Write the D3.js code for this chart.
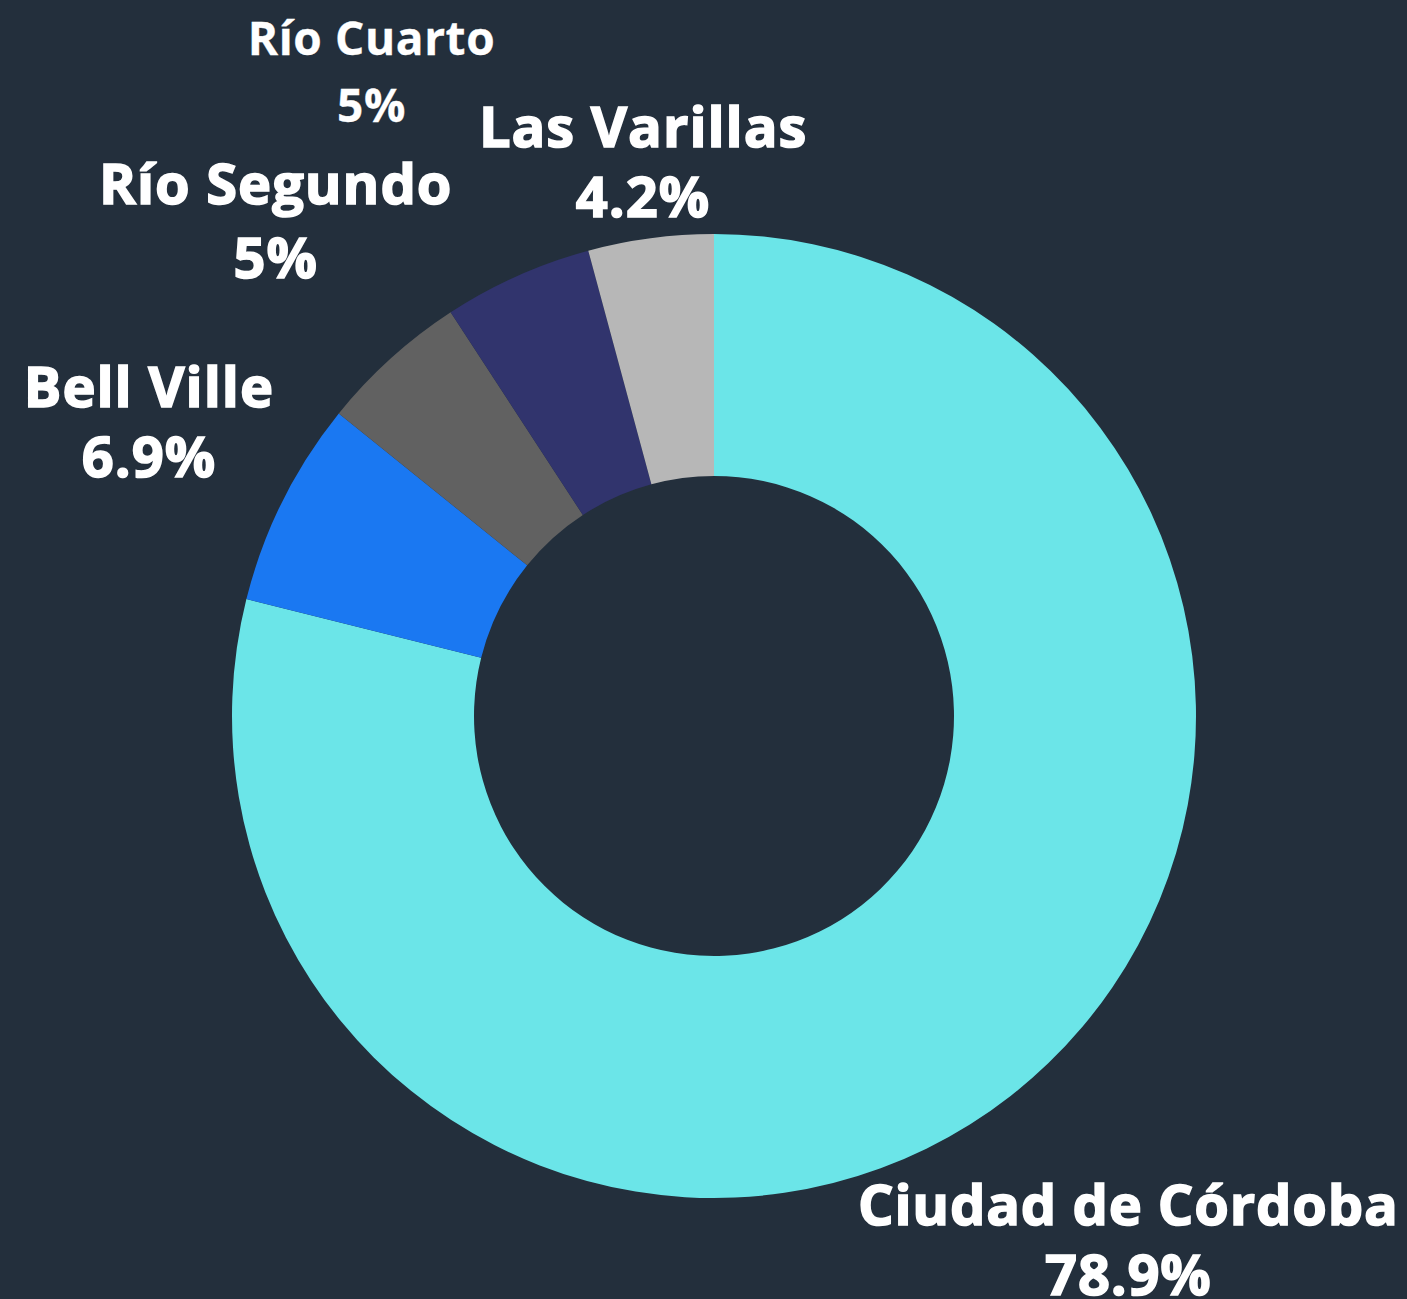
<!DOCTYPE html>
<html>
<head>
<meta charset="utf-8">
<script src="https://cdn.jsdelivr.net/npm/d3@7"></script>
<style>
  html, body { margin: 0; padding: 0; background: #232f3c; }
  svg.chart { display: block; }
  text { font-family: "Open Sans", sans-serif; fill: #ffffff; stroke: #ffffff; }
</style>
</head>
<body>
<svg class="chart" width="1407" height="1299"></svg>
<script>
// data
var cities = ["Ciudad de Córdoba", "Bell Ville", "Río Segundo", "Río Cuarto", "Las Varillas"];
var shares = [78.9, 6.9, 5, 5, 4.2];
var colors = ["#6be5e8", "#1a78f2", "#616161", "#31346d", "#b7b7b7"];

// label layout (distance from centre, angle nudge in degrees, font)
var labelDist = [684, 628, 646, 715, 539];
var labelNudge = [0.7, -0.6, -0.6, -4.5, 0];
var labelSize = [56, 56, 56, 46, 56];
var labelSpacing = [0.8, 1, 1, 0.6, 1];
var labelStroke = [1.6, 1.6, 1.6, 0.3, 1.6];
var lineGap = [70, 70, 74, 67, 70];

var svg = d3.select("svg.chart"),
    width = +svg.attr("width"),
    height = +svg.attr("height");

var cx = 714, cy = 716,
    outerR = 482, innerR = 240;

var g = svg.append("g").attr("transform", "translate(" + cx + "," + cy + ")");

var data = cities.map(function(c, i) {
  return {city: c, value: shares[i], color: colors[i], idx: i};
});

var pie = d3.pie()
    .sort(null)
    .value(function(d) { return d.value; });

var arc = d3.arc()
    .innerRadius(innerR)
    .outerRadius(outerR);

var arcs = pie(data);

g.selectAll("path.slice")
    .data(arcs)
  .enter().append("path")
    .attr("class", "slice")
    .attr("fill", function(d) { return d.data.color; })
    .attr("d", arc);

//labels: placed along each slice's mid angle
var labels = g.selectAll("g.label")
    .data(arcs)
  .enter().append("g")
    .attr("class", "label")
    .attr("transform", function(d) {
      var i = d.data.idx;
      var a = (d.startAngle + d.endAngle) / 2 + labelNudge[i] * Math.PI / 180;
      var r = labelDist[i];
      return "translate(" + (r * Math.sin(a)) + "," + (-r * Math.cos(a)) + ")";
    });

function styleLabel(sel) {
  sel.attr("text-anchor", "middle")
    .style("font-size", function(d) { return labelSize[d.data.idx] + "px"; })
    .style("font-weight", 700)
    .style("letter-spacing", function(d) { return labelSpacing[d.data.idx] + "px"; })
    .style("stroke-width", function(d) { return labelStroke[d.data.idx]; });
}

labels.append("text")
    .call(styleLabel)
    .attr("y", function(d) { return -lineGap[d.data.idx] / 2; })
    .text(function(d) { return d.data.city; });

labels.append("text")
    .call(styleLabel)
    .attr("y", function(d) { return lineGap[d.data.idx] / 2; })
    .text(function(d) { return d.data.value + "%"; });
</script>
</body>
</html>
